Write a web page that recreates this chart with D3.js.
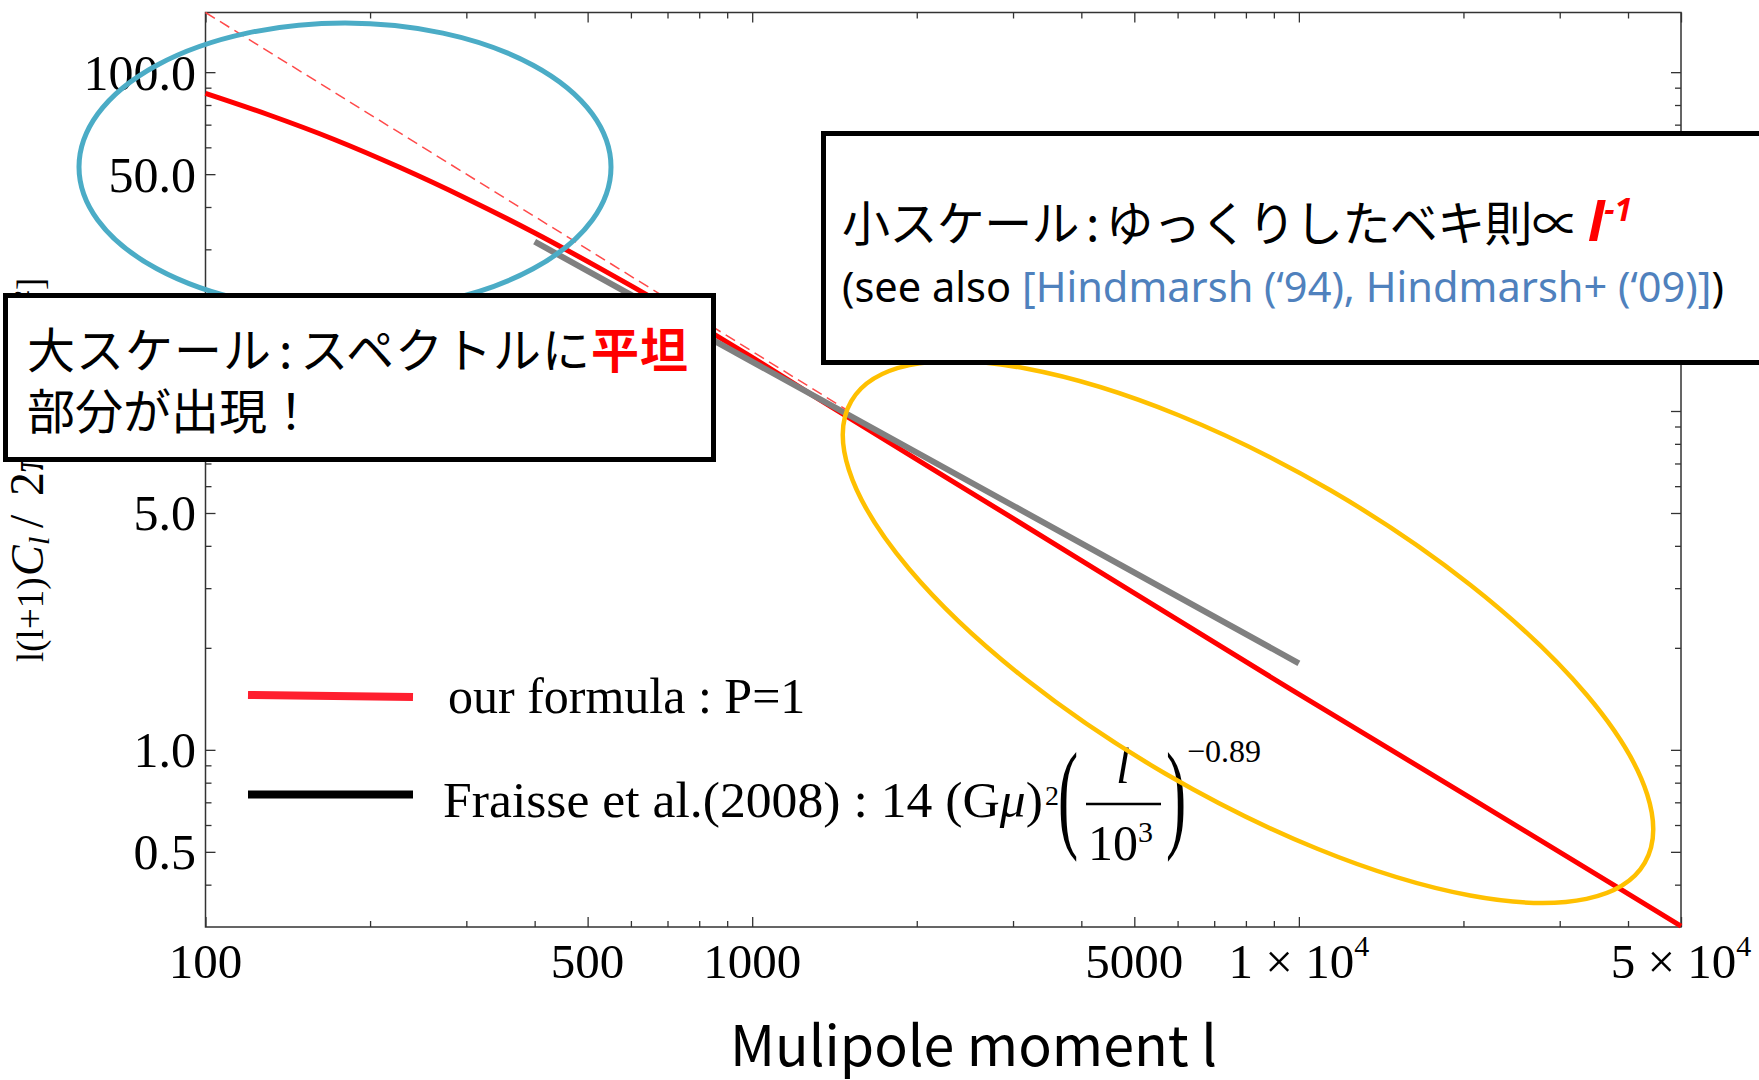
<!DOCTYPE html>
<html>
<head>
<meta charset="utf-8">
<script src="https://cdn.jsdelivr.net/npm/d3@7"></script>
<style>
  html, body { margin: 0; padding: 0; background: #fff; }
  svg { display: block; }
</style>
</head>
<body>
<svg id="chart" width="1759" height="1080"></svg>
<script>
// ---------------- data ----------------
const xDomain = [100, 50000];
const yDomain = [0.3, 150];

const xMajorTicks = [100, 500, 1000, 5000, 10000, 50000];
const xTickBase = ["100", "500", "1000", "5000", "1 \u00d7 10", "5 \u00d7 10"];
const xTickSup = ["", "", "", "", "4", "4"];
const xMinorTicks = [200, 300, 400, 600, 700, 800, 900, 2000, 3000, 4000, 6000, 7000, 8000, 9000, 20000, 30000, 40000];

const yMajorTicks = [0.5, 1, 5, 10, 50, 100];
const yTickLabels = ["0.5", "1.0", "5.0", "10.0", "50.0", "100.0"];
const yMinorTicks = [0.4, 0.6, 0.7, 0.8, 0.9, 2, 3, 4, 6, 7, 8, 9, 20, 30, 40, 60, 70, 80, 90];

// our formula : P=1 (red solid)
const ourL = [100, 130, 172, 227, 300, 398, 526, 697, 990, 1330, 3000, 5000, 9720, 20000, 37500, 50000];
const ourV = [86.6, 75.0, 63.3, 52.3, 42.4, 33.7, 26.4, 20.4, 14.55, 10.79, 4.82, 2.90, 1.50, 0.743, 0.401, 0.302];

// Fraisse et al.(2008) (gray)
const fraisseL = [400, 10000];
const fraisseV = [31.6, 1.80];

// l^-1 guide (red dashed)
const guideL = [100, 1500];
const guideV = [150, 10];

(function () {
// ---------------- layout ----------------
const svg = d3.select("#chart");
const pL = 205.5, pR = 1681, pT = 12.5, pB = 927;
const x = d3.scaleLog().domain(xDomain).range([pL, pR]);
const y = d3.scaleLog().domain(yDomain).range([pB, pT]);

const serif = "'Liberation Serif', 'Times New Roman', serif";
const jp = "'Noto Sans CJK JP', 'Noto Sans', sans-serif";
const frameColor = "#333";

// frame
svg.append("rect").attr("x", pL).attr("y", pT).attr("width", pR - pL).attr("height", pB - pT)
  .attr("fill", "none").attr("stroke", frameColor).attr("stroke-width", 1.5);

function tickAxis(axisFn, scale, vals, size, transform) {
  const g = svg.append("g").attr("transform", transform)
    .call(axisFn(scale).tickValues(vals).tickSizeInner(size).tickSizeOuter(0).tickFormat(""));
  g.select(".domain").remove();
  g.selectAll(".tick line").attr("stroke", frameColor).attr("stroke-width", 1.3);
}
tickAxis(d3.axisBottom, x, xMajorTicks, -10, `translate(0,${pB})`);
tickAxis(d3.axisBottom, x, xMinorTicks, -6, `translate(0,${pB})`);
tickAxis(d3.axisTop, x, xMajorTicks, -10, `translate(0,${pT})`);
tickAxis(d3.axisTop, x, xMinorTicks, -6, `translate(0,${pT})`);
tickAxis(d3.axisLeft, y, yMajorTicks, -10, `translate(${pL},0)`);
tickAxis(d3.axisLeft, y, yMinorTicks, -6, `translate(${pL},0)`);
tickAxis(d3.axisRight, y, yMajorTicks, -10, `translate(${pR},0)`);
tickAxis(d3.axisRight, y, yMinorTicks, -6, `translate(${pR},0)`);

// x tick labels
const xl = svg.append("g").attr("font-family", serif).attr("font-size", 49).attr("fill", "#000");
xMajorTicks.forEach((v, i) => {
  const t = xl.append("text").attr("x", x(v)).attr("y", 978).attr("text-anchor", "middle");
  t.append("tspan").text(xTickBase[i]);
  if (xTickSup[i]) t.append("tspan").attr("font-size", 30).attr("dy", -22).text(xTickSup[i]);
});

// y tick labels
const yl = svg.append("g").attr("font-family", serif).attr("font-size", 50).attr("fill", "#000");
yMajorTicks.forEach((v, i) => {
  yl.append("text").attr("x", 196).attr("y", y(v)).attr("dy", "0.35em")
    .attr("text-anchor", "end").text(yTickLabels[i]);
});

// y axis label (rotated)
const ylab = svg.append("text").attr("font-family", serif).attr("font-size", 37).attr("fill", "#000")
  .attr("transform", "translate(43,662) rotate(-90)");
ylab.append("tspan").attr("x", 0).text("l(l+1)");
ylab.append("tspan").attr("x", 86).attr("font-style", "italic").attr("font-size", 46).text("C");
ylab.append("tspan").attr("x", 117).attr("dy", 6).attr("font-style", "italic").attr("font-size", 30).text("l");
ylab.append("tspan").attr("x", 134).attr("dy", -6).attr("font-size", 48).text("/");
ylab.append("tspan").attr("x", 166).attr("font-size", 48).text("2\u03c0 [(G\u03bc)");
ylab.append("tspan").attr("x", 360).attr("dy", -14).attr("font-size", 24).text("2");
ylab.append("tspan").attr("x", 372).attr("dy", 14).text("]");

// x axis title
svg.append("text").attr("x", 973.5).attr("y", 1066).attr("text-anchor", "middle")
  .attr("font-family", jp).attr("font-size", 56).attr("fill", "#000")
  .attr("textLength", 487).attr("lengthAdjust", "spacingAndGlyphs")
  .text("Mulipole moment l");

// ---------------- curves ----------------
const line = d3.line().x(d => x(d[0])).y(d => y(d[1]));
const curveLine = d3.line().x(d => x(d[0])).y(d => y(d[1])).curve(d3.curveMonotoneX);

svg.append("path").datum(d3.zip(ourL, ourV)).attr("d", curveLine)
  .attr("fill", "none").attr("stroke", "#ff0000").attr("stroke-width", 5).attr("stroke-linejoin", "round");

svg.append("path").datum(d3.zip(fraisseL, fraisseV)).attr("d", line)
  .attr("fill", "none").attr("stroke", "#808080").attr("stroke-width", 6);

svg.append("path").datum(d3.zip(guideL, guideV)).attr("d", line)
  .attr("fill", "none").attr("stroke", "#ff4a4a").attr("stroke-width", 1.5).attr("stroke-dasharray", "11,6");

// ---------------- legend ----------------
svg.append("line").attr("x1", 248).attr("x2", 413).attr("y1", 695).attr("y2", 697)
  .attr("stroke", "#ff1f2f").attr("stroke-width", 8);
svg.append("line").attr("x1", 248).attr("x2", 413).attr("y1", 794.5).attr("y2", 794.5)
  .attr("stroke", "#000").attr("stroke-width", 8);

svg.append("text").attr("x", 448).attr("y", 713).attr("font-family", serif).attr("font-size", 50)
  .attr("fill", "#000").text("our formula : P=1");

const leg2 = svg.append("text").attr("x", 443).attr("y", 817).attr("font-family", serif)
  .attr("font-size", 50).attr("fill", "#000").attr("textLength", 600).attr("lengthAdjust", "spacingAndGlyphs");
leg2.append("tspan").text("Fraisse et al.(2008) : 14 (G");
leg2.append("tspan").attr("font-style", "italic").text("\u03bc");
leg2.append("tspan").text(")");
svg.append("text").attr("x", 1045).attr("y", 805).attr("font-family", serif).attr("font-size", 28).text("2");
svg.append("text").attr("transform", "translate(1058,836) scale(0.5,1)").attr("font-family", serif)
  .attr("font-size", 121).text("(");
svg.append("text").attr("transform", "translate(1166,836) scale(0.5,1)").attr("font-family", serif)
  .attr("font-size", 121).text(")");
svg.append("text").attr("x", 1123).attr("y", 783).attr("text-anchor", "middle").attr("font-family", serif)
  .attr("font-style", "italic").attr("font-size", 50).text("l");
svg.append("line").attr("x1", 1086).attr("x2", 1161).attr("y1", 804).attr("y2", 804)
  .attr("stroke", "#000").attr("stroke-width", 2.5);
const den = svg.append("text").attr("x", 1088).attr("y", 860).attr("font-family", serif).attr("font-size", 50);
den.append("tspan").text("10");
den.append("tspan").attr("font-size", 30).attr("dy", -18).text("3");
svg.append("text").attr("x", 1187).attr("y", 762).attr("font-family", serif).attr("font-size", 32)
  .text("\u22120.89");

// ---------------- annotation ellipses ----------------
svg.append("ellipse").attr("cx", 345).attr("cy", 167).attr("rx", 266).attr("ry", 144)
  .attr("fill", "none").attr("stroke", "#4bacc6").attr("stroke-width", 5);
svg.append("ellipse").attr("cx", 0).attr("cy", 0).attr("rx", 459).attr("ry", 164)
  .attr("transform", "translate(1248,632) rotate(30.2)")
  .attr("fill", "none").attr("stroke", "#ffc000").attr("stroke-width", 4.5);

// ---------------- text boxes ----------------
svg.append("rect").attr("x", 5.5).attr("y", 295.5).attr("width", 708).attr("height", 164)
  .attr("fill", "#fff").attr("stroke", "#000").attr("stroke-width", 5);
const b1 = svg.append("text").attr("x", 27).attr("y", 368).attr("font-family", jp).attr("font-size", 48)
  .attr("fill", "#000").attr("textLength", 661).attr("lengthAdjust", "spacing");
b1.append("tspan").text("大スケール");
b1.append("tspan").attr("dx", 7).text(":");
b1.append("tspan").attr("dx", 7).text("スペクトルに");
b1.append("tspan").attr("fill", "#ff0000").attr("font-weight", "bold").text("平坦");
svg.append("text").attr("x", 27).attr("y", 429).attr("font-family", jp).attr("font-size", 48)
  .attr("fill", "#000").text("部分が出現！");

svg.append("rect").attr("x", 823.5).attr("y", 133.5).attr("width", 1000).attr("height", 229)
  .attr("fill", "#fff").attr("stroke", "#000").attr("stroke-width", 5);
const b2 = svg.append("text").attr("x", 842).attr("y", 241).attr("font-family", jp).attr("font-size", 48)
  .attr("fill", "#000").attr("textLength", 738).attr("lengthAdjust", "spacing");
b2.append("tspan").text("小スケール");
b2.append("tspan").attr("dx", 7).text(":");
b2.append("tspan").attr("dx", 7).text("ゆっくりしたベキ則∝");
const b2r = svg.append("text").attr("x", 1588).attr("y", 241).attr("fill", "#ff0000")
  .attr("font-family", "'Noto Sans', sans-serif").attr("font-weight", "bold").attr("font-style", "italic");
b2r.append("tspan").attr("font-size", 54).text("l");
b2r.append("tspan").attr("font-size", 32).attr("dy", -20).text("-1");

const b3 = svg.append("text").attr("x", 842).attr("y", 302).attr("font-family", "'Noto Sans', sans-serif")
  .attr("font-size", 42).attr("fill", "#000").attr("textLength", 882).attr("lengthAdjust", "spacingAndGlyphs");
b3.append("tspan").text("(see also ");
b3.append("tspan").attr("fill", "#4f81bd").text("[Hindmarsh (\u201894), Hindmarsh+ (\u201809)]");
b3.append("tspan").text(")");
})();
</script>
</body>
</html>
